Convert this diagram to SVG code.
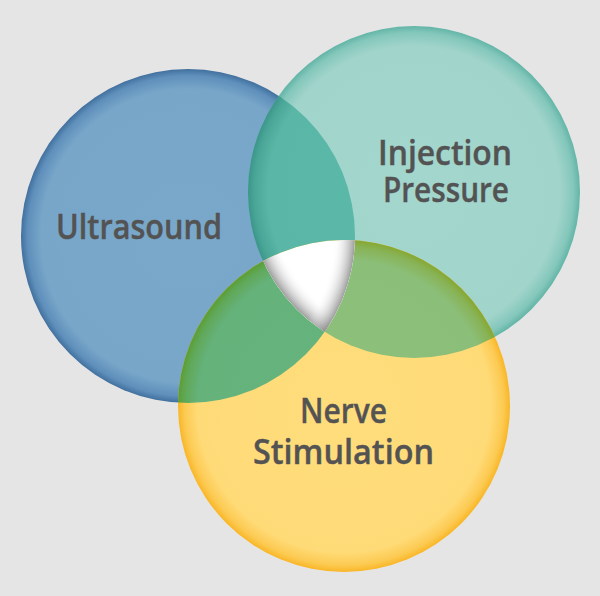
<svg xmlns="http://www.w3.org/2000/svg" width="600" height="596" viewBox="0 0 600 596">
<style>
.lbl{font-family:"Open Sans","Noto Sans","Liberation Sans",sans-serif;font-weight:600;font-size:35px;fill:#535353;text-anchor:middle;stroke:#535353;stroke-width:0.4}
</style>
<defs>
<radialGradient id="gBlue" gradientUnits="userSpaceOnUse" cx="188" cy="236" r="167">
<stop offset="0" stop-color="#7aa8cb"/><stop offset="0.88" stop-color="#78a6c9"/><stop offset="0.96" stop-color="#5f8fbb"/><stop offset="1" stop-color="#41709e"/>
</radialGradient>
<radialGradient id="gTeal" gradientUnits="userSpaceOnUse" cx="414" cy="192" r="166">
<stop offset="0" stop-color="#a3d6cd"/><stop offset="0.88" stop-color="#a1d4cb"/><stop offset="0.96" stop-color="#84c7bb"/><stop offset="1" stop-color="#62b5a7"/>
</radialGradient>
<radialGradient id="gYel" gradientUnits="userSpaceOnUse" cx="344" cy="406" r="166">
<stop offset="0" stop-color="#ffdd7c"/><stop offset="0.88" stop-color="#ffdb78"/><stop offset="0.96" stop-color="#fcca52"/><stop offset="1" stop-color="#f9b626"/>
</radialGradient>
<radialGradient id="gBT" gradientUnits="userSpaceOnUse" cx="414" cy="192" r="166">
<stop offset="0" stop-color="#5bb9a9"/><stop offset="0.88" stop-color="#5ab7a7"/><stop offset="0.96" stop-color="#4aa798"/><stop offset="1" stop-color="#3c968a"/>
</radialGradient>
<radialGradient id="gBY" gradientUnits="userSpaceOnUse" cx="344" cy="406" r="166">
<stop offset="0" stop-color="#66b47e"/><stop offset="0.88" stop-color="#65b27b"/><stop offset="0.96" stop-color="#60a858"/><stop offset="1" stop-color="#5b9e34"/>
</radialGradient>
<radialGradient id="gTY" gradientUnits="userSpaceOnUse" cx="344" cy="406" r="166">
<stop offset="0" stop-color="#8dc07c"/><stop offset="0.88" stop-color="#8bbe78"/><stop offset="0.96" stop-color="#88b356"/><stop offset="1" stop-color="#86a832"/>
</radialGradient>
<radialGradient id="sTeal" gradientUnits="userSpaceOnUse" cx="414" cy="192" r="166">
<stop offset="0.87" stop-color="#ffffff" stop-opacity="0"/><stop offset="1" stop-color="#8a8a8a" stop-opacity="0.85"/>
</radialGradient>
<radialGradient id="sBlue" gradientUnits="userSpaceOnUse" cx="188" cy="236" r="167">
<stop offset="0.87" stop-color="#ffffff" stop-opacity="0"/><stop offset="1" stop-color="#8a8a8a" stop-opacity="0.85"/>
</radialGradient>
<clipPath id="cBlue"><circle cx="188" cy="236" r="167"/></clipPath>
<clipPath id="cTeal"><circle cx="414" cy="192" r="166"/></clipPath>
<clipPath id="cYel"><circle cx="344" cy="406" r="166"/></clipPath>
</defs>
<rect width="600" height="596" fill="#e5e5e5"/>
<g id="ultrasound">
<circle cx="188" cy="236" r="167" fill="url(#gBlue)"/>
</g>
<g id="injection-pressure">
<circle cx="414" cy="192" r="166" fill="url(#gTeal)"/>
</g>
<g id="nerve-stimulation">
<circle cx="344" cy="406" r="166" fill="url(#gYel)"/>
</g>
<g id="overlaps">
<g clip-path="url(#cBlue)"><circle cx="414" cy="192" r="166" fill="url(#gBT)"/></g>
<g clip-path="url(#cBlue)"><circle cx="344" cy="406" r="166" fill="url(#gBY)"/></g>
<g clip-path="url(#cTeal)"><circle cx="344" cy="406" r="166" fill="url(#gTY)"/></g>
<g clip-path="url(#cBlue)"><g clip-path="url(#cTeal)"><g clip-path="url(#cYel)">
<rect x="240" y="220" width="130" height="120" fill="#ffffff"/>
<circle cx="414" cy="192" r="166" fill="url(#sTeal)"/>
<circle cx="188" cy="236" r="167" fill="url(#sBlue)"/>
</g></g></g>
</g>
<g id="connectors"/>
<g id="labels">
<text class="lbl" x="139" y="239" textLength="166" lengthAdjust="spacingAndGlyphs">Ultrasound</text>
<text class="lbl"><tspan x="445" y="165" textLength="134" lengthAdjust="spacingAndGlyphs">Injection</tspan><tspan x="446" y="202" textLength="126" lengthAdjust="spacingAndGlyphs">Pressure</tspan></text>
<text class="lbl"><tspan x="343.5" y="423" textLength="87" lengthAdjust="spacingAndGlyphs">Nerve</tspan><tspan x="343.5" y="464" textLength="181" lengthAdjust="spacingAndGlyphs">Stimulation</tspan></text>
</g>
</svg>
